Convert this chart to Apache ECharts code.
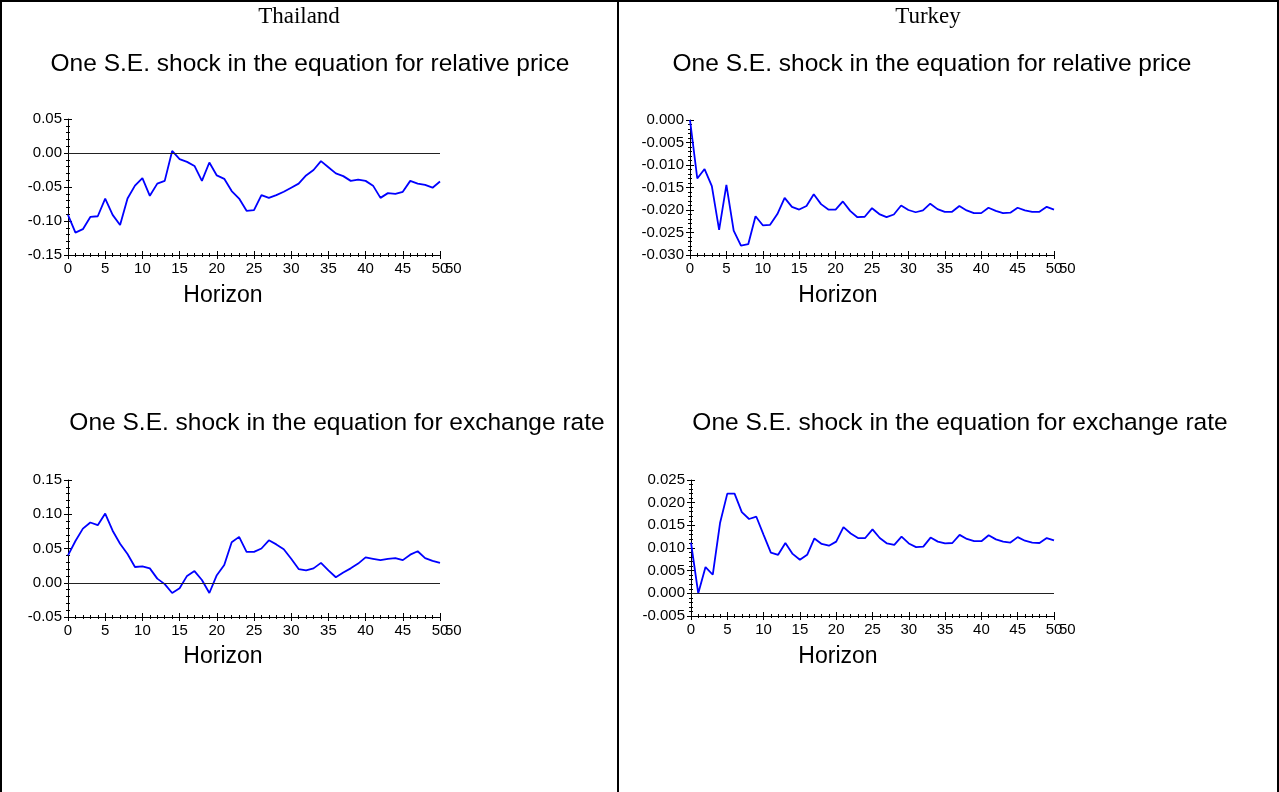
<!DOCTYPE html>
<html>
<head>
<meta charset="utf-8">
<script src="https://cdn.jsdelivr.net/npm/echarts@6/dist/echarts.min.js"></script>
<style>
html, body { margin: 0; padding: 0; background: #fff; }
#chart { width: 1279px; height: 792px; }
</style>
</head>
<body>
<div id="chart"></div>
<script>
// horizons 0..50
var horizon = [0, 1, 2, 3, 4, 5, 6, 7, 8, 9, 10, 11, 12, 13, 14, 15, 16, 17, 18, 19, 20,
  21, 22, 23, 24, 25, 26, 27, 28, 29, 30, 31, 32, 33, 34, 35, 36, 37, 38, 39, 40,
  41, 42, 43, 44, 45, 46, 47, 48, 49, 50];

// Thailand, shock to relative price
var thaiPrice = [-0.091, -0.117, -0.112, -0.094, -0.093, -0.067, -0.091, -0.106, -0.067, -0.048, -0.037,
  -0.063, -0.045, -0.041, 0.003, -0.009, -0.013, -0.019, -0.041, -0.014, -0.033,
  -0.038, -0.056, -0.067, -0.085, -0.084, -0.062, -0.066, -0.062, -0.057, -0.051,
  -0.045, -0.033, -0.025, -0.012, -0.021, -0.030, -0.034, -0.041, -0.039, -0.041,
  -0.048, -0.066, -0.059, -0.060, -0.057, -0.041, -0.045, -0.047, -0.051, -0.042];

// Turkey, shock to relative price
var turkPrice = [0.0000, -0.0130, -0.0109, -0.0147, -0.0244, -0.0144, -0.0246, -0.0279, -0.0276, -0.0214, -0.0234,
  -0.0233, -0.0209, -0.0173, -0.0193, -0.0199, -0.0191, -0.0165, -0.0187, -0.0199, -0.0199,
  -0.0181, -0.0202, -0.0216, -0.0215, -0.0196, -0.0209, -0.0216, -0.0210, -0.0190, -0.0200,
  -0.0205, -0.0201, -0.0186, -0.0198, -0.0204, -0.0204, -0.0191, -0.0201, -0.0207, -0.0207,
  -0.0195, -0.0202, -0.0207, -0.0206, -0.0195, -0.0201, -0.0204, -0.0204, -0.0193, -0.0199];

// Thailand, shock to exchange rate
var thaiRate = [0.040, 0.061, 0.079, 0.088, 0.084, 0.101, 0.076, 0.057, 0.042, 0.023, 0.024,
  0.021, 0.006, -0.002, -0.015, -0.008, 0.010, 0.017, 0.004, -0.015, 0.011,
  0.026, 0.059, 0.067, 0.045, 0.045, 0.050, 0.062, 0.056, 0.049, 0.035,
  0.020, 0.018, 0.021, 0.029, 0.018, 0.008, 0.015, 0.021, 0.028, 0.037,
  0.035, 0.033, 0.035, 0.036, 0.033, 0.041, 0.046, 0.036, 0.032, 0.029];

// Turkey, shock to exchange rate
var turkRate = [0.0112, 0.0000, 0.0058, 0.0041, 0.0155, 0.0220, 0.0220, 0.0179, 0.0164, 0.0169, 0.0129,
  0.0090, 0.0085, 0.0111, 0.0087, 0.0074, 0.0085, 0.0121, 0.0109, 0.0105, 0.0114,
  0.0146, 0.0132, 0.0122, 0.0122, 0.0141, 0.0122, 0.0110, 0.0107, 0.0125, 0.0110,
  0.0102, 0.0103, 0.0123, 0.0114, 0.0110, 0.0111, 0.0129, 0.0120, 0.0115, 0.0115,
  0.0128, 0.0119, 0.0114, 0.0112, 0.0124, 0.0116, 0.0112, 0.0111, 0.0122, 0.0117];

var sans = 'Liberation Sans, Arial, sans-serif';
var serif = 'Liberation Serif, Times New Roman, serif';

var panels = [
  { grid: { left: 68, top: 119, width: 372, height: 136 }, yMin: -0.15, yMax: 0.05, yStep: 0.05, dec: 2, data: thaiPrice, zero: true },
  { grid: { left: 690, top: 120, width: 364, height: 135 }, yMin: -0.030, yMax: 0.000, yStep: 0.005, dec: 3, data: turkPrice, zero: false },
  { grid: { left: 68, top: 480, width: 372, height: 137 }, yMin: -0.05, yMax: 0.15, yStep: 0.05, dec: 2, data: thaiRate, zero: true },
  { grid: { left: 691, top: 480, width: 363, height: 136 }, yMin: -0.005, yMax: 0.025, yStep: 0.005, dec: 3, data: turkRate, zero: true }
];

var grids = [], xAxes = [], yAxes = [], series = [];

panels.forEach(function (p, i) {
  grids.push(p.grid);
  // main axes (labels, outer ticks)
  xAxes.push({
    type: 'value', gridIndex: i, position: 'bottom', min: 0, max: 50, interval: 5,
    axisLine: { onZero: false, lineStyle: { color: '#000', width: 1 } },
    axisTick: { length: 4, lineStyle: { color: '#000' } },
    minorTick: { show: true, splitNumber: 5, length: 2, lineStyle: { color: '#000' } },
    axisLabel: { fontSize: 15, fontFamily: sans, color: '#000', margin: 6 },
    splitLine: { show: false },
    name: '50', nameLocation: 'end', nameGap: 5, nameMoveOverlap: false,
    nameTextStyle: { fontSize: 15, fontFamily: sans, color: '#000', verticalAlign: 'top', padding: [6, 0, 0, 0] }
  });
  // copy with inner ticks so they cross the axis
  xAxes.push({
    type: 'value', gridIndex: i, position: 'bottom', min: 0, max: 50, interval: 5,
    axisLine: { show: false, onZero: false },
    axisTick: { inside: true, length: 4, lineStyle: { color: '#000' } },
    minorTick: { show: true, splitNumber: 5, length: 2, lineStyle: { color: '#000' } },
    axisLabel: { show: false }, splitLine: { show: false }
  });
  var dec = p.dec;
  yAxes.push({
    type: 'value', gridIndex: i, position: 'left', min: p.yMin, max: p.yMax, interval: p.yStep,
    axisLine: { show: true, onZero: false, lineStyle: { color: '#000', width: 1 } },
    axisTick: { show: true, length: 4, lineStyle: { color: '#000' } },
    minorTick: { show: true, splitNumber: 5, length: 2, lineStyle: { color: '#000' } },
    axisLabel: {
      fontSize: 15, fontFamily: sans, color: '#000', margin: 6,
      formatter: function (v) { return (Math.abs(v) < 1e-9 ? 0 : v).toFixed(dec); }
    },
    splitLine: { show: false }
  });
  yAxes.push({
    type: 'value', gridIndex: i, position: 'left', min: p.yMin, max: p.yMax, interval: p.yStep,
    axisLine: { show: false, onZero: false },
    axisTick: { show: true, inside: true, length: 4, lineStyle: { color: '#000' } },
    minorTick: { show: true, splitNumber: 5, length: 2, lineStyle: { color: '#000' } },
    axisLabel: { show: false }, splitLine: { show: false }
  });

  var s = {
    type: 'line', xAxisIndex: i * 2, yAxisIndex: i * 2,
    data: horizon.map(function (h, k) { return [h, p.data[k]]; }),
    showSymbol: false, symbol: 'none',
    lineStyle: { color: '#0000ff', width: 1.8 },
    z: 3
  };
  if (p.zero) {
    s.markLine = {
      silent: true, symbol: 'none', label: { show: false },
      lineStyle: { color: '#222', width: 1, type: 'solid' },
      data: [{ yAxis: 0 }]
    };
  }
  series.push(s);
});

function txt(x, y, text, font) {
  return { type: 'text', x: x, y: y, style: { text: text, font: font, fill: '#000', textAlign: 'center', textVerticalAlign: 'middle' } };
}
function line(x1, y1, x2, y2) {
  return { type: 'line', shape: { x1: x1, y1: y1, x2: x2, y2: y2 }, style: { stroke: '#000', lineWidth: 2 } };
}

var graphics = [
  line(0, 1, 1279, 1), line(1, 0, 1, 792), line(618, 0, 618, 792), line(1278, 0, 1278, 792),
  txt(299, 17, 'Thailand', '23px ' + serif),
  txt(928, 17, 'Turkey', '23px ' + serif),
  txt(310, 64, 'One S.E. shock in the equation for relative price', '24.5px ' + sans),
  txt(932, 64, 'One S.E. shock in the equation for relative price', '24.5px ' + sans),
  txt(337, 423, 'One S.E. shock in the equation for exchange rate', '24.5px ' + sans),
  txt(960, 423, 'One S.E. shock in the equation for exchange rate', '24.5px ' + sans),
  txt(223, 296, 'Horizon', '23px ' + sans),
  txt(838, 296, 'Horizon', '23px ' + sans),
  txt(223, 657, 'Horizon', '23px ' + sans),
  txt(838, 657, 'Horizon', '23px ' + sans)
];

var chart = echarts.init(document.getElementById('chart'));
chart.setOption({
  animation: false,
  backgroundColor: '#fff',
  grid: grids,
  xAxis: xAxes,
  yAxis: yAxes,
  series: series,
  graphic: graphics
});
</script>
</body>
</html>
